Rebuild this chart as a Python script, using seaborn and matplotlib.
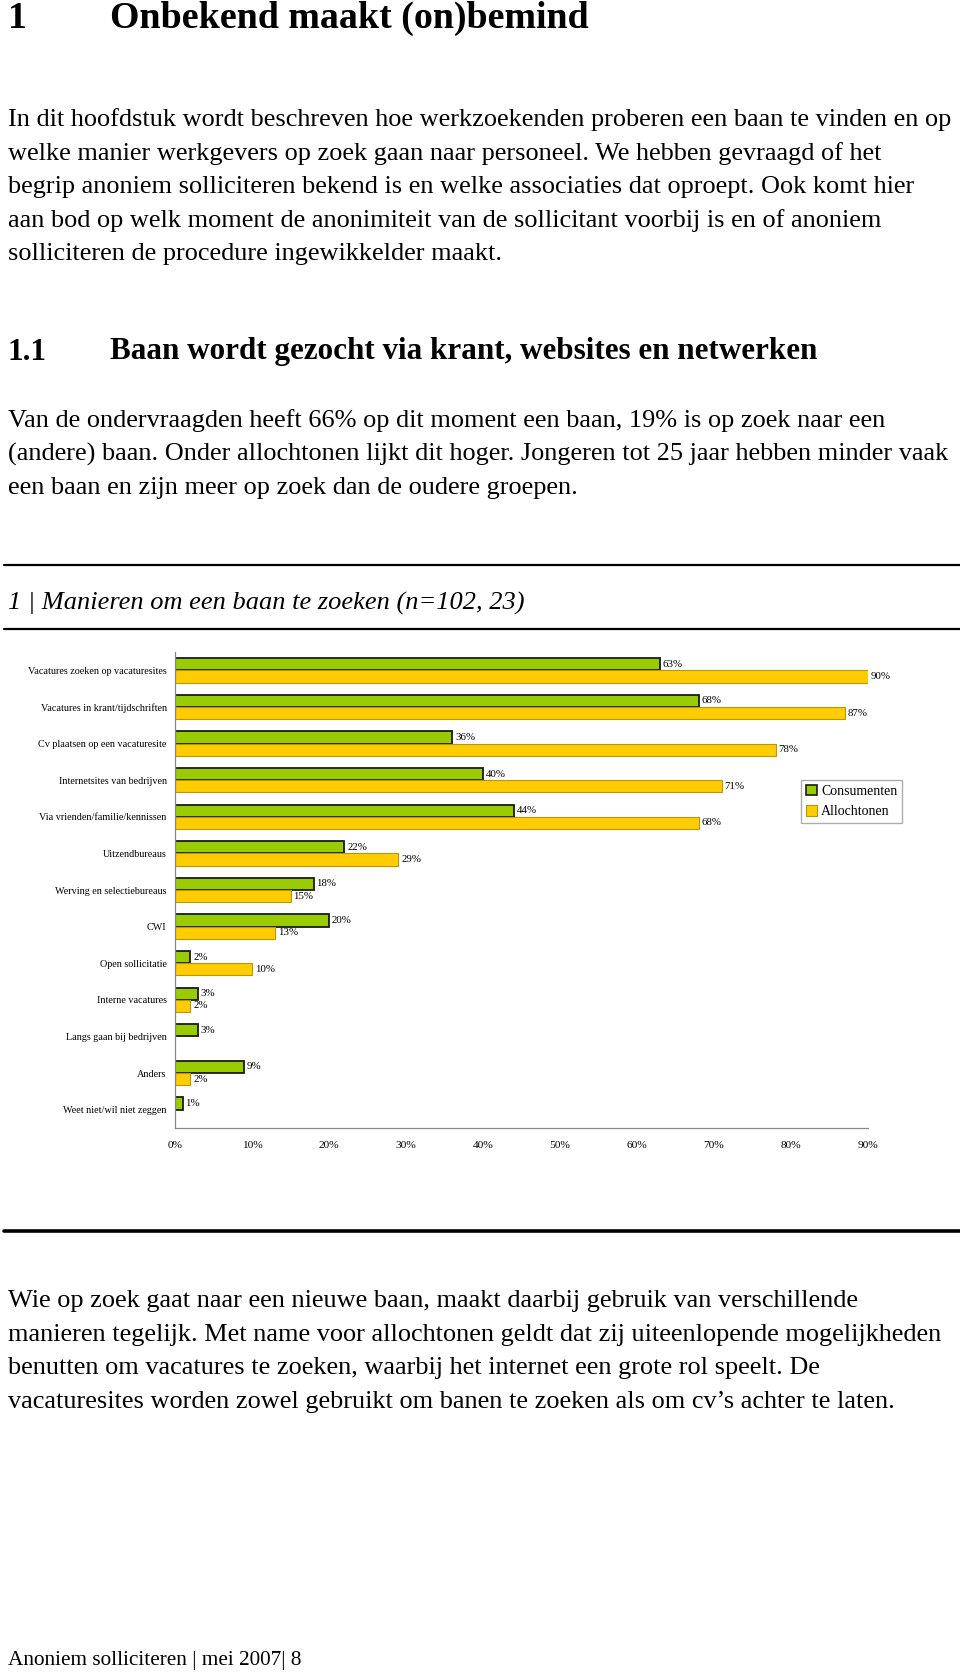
import numpy as np
import pandas as pd
import matplotlib
matplotlib.use("Agg")
import matplotlib.pyplot as plt
from matplotlib.lines import Line2D
from matplotlib.patches import Patch
import seaborn as sns

# ---- data -------------------------------------------------------------
categories = [
    "Vacatures zoeken op vacaturesites",
    "Vacatures in krant/tijdschriften",
    "Cv plaatsen op een vacaturesite",
    "Internetsites van bedrijven",
    "Via vrienden/familie/kennissen",
    "Uitzendbureaus",
    "Werving en selectiebureaus",
    "CWI",
    "Open sollicitatie",
    "Interne vacatures",
    "Langs gaan bij bedrijven",
    "Anders",
    "Weet niet/wil niet zeggen",
]
consumenten = [63, 68, 36, 40, 44, 22, 18, 20, 2, 3, 3, 9, 1]
allochtonen = [90, 87, 78, 71, 68, 29, 15, 13, 10, 2, np.nan, 2, np.nan]
groups = ["Consumenten", "Allochtonen"]
x_ticks = [0, 10, 20, 30, 40, 50, 60, 70, 80, 90]

heading = "Onbekend maakt (on)bemind"
para1 = [
    "In dit hoofdstuk wordt beschreven hoe werkzoekenden proberen een baan te vinden en op",
    "welke manier werkgevers op zoek gaan naar personeel. We hebben gevraagd of het",
    "begrip anoniem solliciteren bekend is en welke associaties dat oproept. Ook komt hier",
    "aan bod op welk moment de anonimiteit van de sollicitant voorbij is en of anoniem",
    "solliciteren de procedure ingewikkelder maakt.",
]
subheading = "Baan wordt gezocht via krant, websites en netwerken"
para2 = [
    "Van de ondervraagden heeft 66% op dit moment een baan, 19% is op zoek naar een",
    "(andere) baan. Onder allochtonen lijkt dit hoger. Jongeren tot 25 jaar hebben minder vaak",
    "een baan en zijn meer op zoek dan de oudere groepen.",
]
chart_title = "1 | Manieren om een baan te zoeken (n=102, 23)"
para3 = [
    "Wie op zoek gaat naar een nieuwe baan, maakt daarbij gebruik van verschillende",
    "manieren tegelijk. Met name voor allochtonen geldt dat zij uiteenlopende mogelijkheden",
    "benutten om vacatures te zoeken, waarbij het internet een grote rol speelt. De",
    "vacaturesites worden zowel gebruikt om banen te zoeken als om cv\u2019s achter te laten.",
]
footer = "Anoniem solliciteren | mei 2007| 8"

df = pd.DataFrame({
    "cat": categories * 2,
    "groep": [groups[0]] * len(categories) + [groups[1]] * len(categories),
    "pct": consumenten + allochtonen,
}).dropna()

# ---- figure -----------------------------------------------------------
sns.set_style("white")
plt.rcParams["font.family"] = ["Liberation Serif", "DejaVu Serif"]
plt.rcParams["text.color"] = "black"
plt.rcParams["xtick.color"] = "black"
plt.rcParams["ytick.color"] = "black"

W, H = 960, 1672
fig = plt.figure(figsize=(W / 100, H / 100), dpi=100)


def fx(px):
    return px / W


def fy(py):
    return 1 - py / H


def page_text(x, y, s, size, **kw):
    fig.text(fx(x), fy(y), s, fontsize=size, va="center", ha="left", **kw)


# heading + text
page_text(8, 18, "1", 27.3, weight="bold")
page_text(110, 18, heading, 27.3, weight="bold")
for i, line in enumerate(para1):
    page_text(8, 119.5 + i * 33.6, line, 18.9)
page_text(8, 352, "1.1", 22.4, weight="bold")
page_text(110, 352, subheading, 22.4, weight="bold")
for i, line in enumerate(para2):
    page_text(8, 421 + i * 33.6, line, 18.9)

fig.add_artist(Line2D([fx(4), 1], [fy(565), fy(565)], color="black", lw=1.6))
page_text(8, 603, chart_title, 19, style="italic")
fig.add_artist(Line2D([fx(4), 1], [fy(629), fy(629)], color="black", lw=1.6))

for i, line in enumerate(para3):
    page_text(8, 1301 + i * 33.6, line, 18.9)
fig.add_artist(Line2D([fx(4), 1], [fy(1231), fy(1231)], color="black", lw=2.6))
page_text(8, 1661, footer, 15.3)

# ---- chart ------------------------------------------------------------
green, yellow = "#99CC00", "#FFCC00"
ax = fig.add_axes([fx(175), fy(1128), fx(868) - fx(175), (1128 - 652) / H])
sns.barplot(data=df, x="pct", y="cat", hue="groep", order=categories,
            hue_order=groups, palette=[green, yellow], orient="h",
            width=0.667, saturation=1, legend=False, ax=ax)

edges = [("#1a1a1a", 1.3), ("#B8960A", 0.8)]
for cont, (ec, lw) in zip(ax.containers, edges):
    for bar in cont:
        bar.set_edgecolor(ec)
        bar.set_linewidth(lw)
    ax.bar_label(cont, fmt="%.0f%%", padding=2, fontsize=7.8)

ax.set_xlim(0, 90)
ax.set_ylim(len(categories) - 0.5, -0.5)
ax.set_xticks(x_ticks)
ax.set_xticklabels([f"{t}%" for t in x_ticks], fontsize=8.2)
ax.set_yticks(range(len(categories)))
ax.set_yticklabels(categories, fontsize=7.3)
ax.set_yticks(np.arange(-0.5, len(categories)), minor=True)
ax.tick_params(axis="y", which="major", length=0, pad=6)
ax.tick_params(axis="y", which="minor", length=4, color="#888888", width=0.8)
ax.tick_params(axis="x", length=4, color="#888888", width=0.8, pad=5)
ax.set_xlabel("")
ax.set_ylabel("")
for side in ["top", "right"]:
    ax.spines[side].set_visible(False)
for side in ["left", "bottom"]:
    ax.spines[side].set_color("#888888")
    ax.spines[side].set_linewidth(0.9)
ax.grid(False)

handles = [Patch(facecolor=green, edgecolor="#1a1a1a", lw=1.2),
           Patch(facecolor=yellow, edgecolor="#B8960A", lw=0.8)]
ax.legend(handles, groups, loc="upper left",
          bbox_to_anchor=(fx(801), fy(780)), bbox_transform=fig.transFigure,
          frameon=True, fancybox=False, edgecolor="#999999", fontsize=10,
          handlelength=0.8, handleheight=0.8, handletextpad=0.3,
          borderpad=0.35, borderaxespad=0, labelspacing=0.5)

fig.savefig("out.png", dpi=100, facecolor="white")
